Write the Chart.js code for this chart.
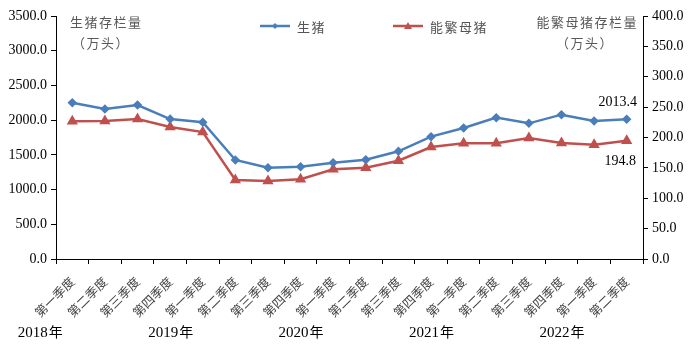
<!DOCTYPE html>
<html>
<head>
<meta charset="utf-8">
<script src="https://cdn.jsdelivr.net/npm/chart.js@4/dist/chart.umd.min.js"></script>
<style>
  html, body { margin: 0; padding: 0; background: #fff; }
  #wrap { width: 692px; height: 352px; }
</style>
</head>
<body>
<div id="wrap"><canvas id="pigs"></canvas></div>
<script>
// quarter labels (x axis) and the year row under them
var quarters = ['第一季度', '第二季度', '第三季度', '第四季度',
                '第一季度', '第二季度', '第三季度', '第四季度',
                '第一季度', '第二季度', '第三季度', '第四季度',
                '第一季度', '第二季度', '第三季度', '第四季度',
                '第一季度', '第二季度'];
var years = ['2018年', '2019年', '2020年', '2021年', '2022年'];

// 生猪存栏量 (万头), left axis
var hogs = [2251, 2160, 2218, 2016, 1969, 1426, 1315, 1330, 1387, 1430,
            1551, 1762, 1887, 2036, 1954, 2079, 1988, 2013.4];
// 能繁母猪存栏量 (万头), right axis
var sows = [226.6, 227.0, 230.4, 217.3, 209.0, 130.0, 128.4, 131.2, 147.6, 150.3,
            161.8, 184.4, 190.4, 190.4, 199.2, 191.0, 188.2, 194.8];

var blue = '#4a7ebb';
var red = '#c0504d';
var serif = '"Liberation Serif", "Times New Roman", serif';
var cjk = '"Noto Sans CJK SC", sans-serif';

// titles, legend, year row and end labels
var extras = {
  id: 'extras',
  afterDraw: function (chart) {
    var ctx = chart.ctx;
    var x = chart.scales.x;
    var yl = chart.scales.y;
    var yr = chart.scales.y2;
    ctx.save();
    ctx.textBaseline = 'middle';

    // axis titles
    ctx.fillStyle = '#595959';
    ctx.font = '13px ' + cjk;
    ctx.letterSpacing = '1.5px';
    ctx.textAlign = 'left';
    ctx.fillText('生猪存栏量', 70, 22);
    ctx.fillText('（万头）', 72, 43);
    ctx.textAlign = 'right';
    ctx.fillText('能繁母猪存栏量', 638, 22);
    ctx.fillText('（万头）', 614, 43);

    // legend
    var items = [[260, '生猪', blue, 'diamond'], [393, '能繁母猪', red, 'tri']];
    items.forEach(function (it) {
      var lx = it[0], ly = 26;
      ctx.strokeStyle = it[2];
      ctx.lineWidth = 2.5;
      ctx.beginPath();
      ctx.moveTo(lx, ly);
      ctx.lineTo(lx + 30, ly);
      ctx.stroke();
      ctx.fillStyle = it[2];
      ctx.beginPath();
      if (it[3] === 'diamond') {
        ctx.moveTo(lx + 15, ly - 3); ctx.lineTo(lx + 18, ly);
        ctx.lineTo(lx + 15, ly + 3); ctx.lineTo(lx + 12, ly);
      } else {
        ctx.moveTo(lx + 15, ly - 4); ctx.lineTo(lx + 19, ly + 3); ctx.lineTo(lx + 11, ly + 3);
      }
      ctx.closePath();
      ctx.fill();
      ctx.fillStyle = '#555';
      ctx.textAlign = 'left';
      ctx.fillText(it[1], lx + 37, ly + 1);
    });

    // year row
    ctx.letterSpacing = '0px';
    ctx.fillStyle = '#000';
    years.forEach(function (yrText, k) {
      var px = x.getPixelForValue(4 * k - 1);
      ctx.font = '15px ' + serif;
      var num = yrText.slice(0, 4);
      var w1 = ctx.measureText(num).width;
      ctx.font = '14px ' + cjk;
      var w2 = ctx.measureText('年').width;
      var start = px - (w1 + w2) / 2;
      ctx.textAlign = 'left';
      ctx.font = '15px ' + serif;
      ctx.fillText(num, start, 333);
      ctx.font = '14px ' + cjk;
      ctx.fillText('年', start + w1 + 1, 332);
    });

    // end labels
    var last = hogs.length - 1;
    ctx.font = '14px ' + serif;
    ctx.textAlign = 'right';
    ctx.fillText(hogs[last].toFixed(1), 637, yl.getPixelForValue(hogs[last]) - 17);
    ctx.fillText(sows[last].toFixed(1), 636, yr.getPixelForValue(sows[last]) + 21);
    ctx.restore();
  }
};

new Chart(document.getElementById('pigs'), {
  type: 'line',
  data: {
    labels: quarters,
    datasets: [{
      label: '生猪',
      data: hogs,
      yAxisID: 'y',
      borderColor: blue,
      backgroundColor: blue,
      borderWidth: 2.5,
      pointStyle: 'rectRot',
      pointRadius: 3,
      tension: 0
    }, {
      label: '能繁母猪',
      data: sows,
      yAxisID: 'y2',
      borderColor: red,
      backgroundColor: red,
      borderWidth: 2.5,
      pointStyle: 'triangle',
      pointRadius: 4,
      tension: 0
    }]
  },
  options: {
    responsive: true,
    maintainAspectRatio: false,
    animation: false,
    layout: { padding: { top: 16, left: 0, right: 0, bottom: 0 } },
    plugins: { legend: { display: false }, tooltip: { enabled: false } },
    scales: {
      x: {
        offset: true,
        grid: { display: true, drawOnChartArea: false, offset: true, color: '#000', tickLength: 5 },
        border: { color: '#000', width: 1 },
        ticks: {
          autoSkip: false, minRotation: 45, maxRotation: 45,
          color: '#444', padding: 10,
          font: { family: cjk, size: 12.5 }
        },
        afterFit: function (s) { s.height = 93; }
      },
      y: {
        position: 'left',
        min: 0, max: 3500,
        grid: { drawOnChartArea: false, color: '#000', tickLength: 5 },
        border: { color: '#000', width: 1 },
        ticks: {
          stepSize: 500, color: '#000', padding: 4,
          font: { family: serif, size: 14 },
          callback: function (v) { return v.toFixed(1); }
        },
        afterFit: function (s) { s.width = 56; }
      },
      y2: {
        position: 'right',
        min: 0, max: 400,
        grid: { drawOnChartArea: false, color: '#000', tickLength: 5 },
        border: { color: '#000', width: 1 },
        ticks: {
          stepSize: 50, color: '#000', padding: 4,
          font: { family: serif, size: 14 },
          callback: function (v) { return v.toFixed(1); }
        },
        afterFit: function (s) { s.width = 49; }
      }
    }
  },
  plugins: [extras]
});
</script>
</body>
</html>
